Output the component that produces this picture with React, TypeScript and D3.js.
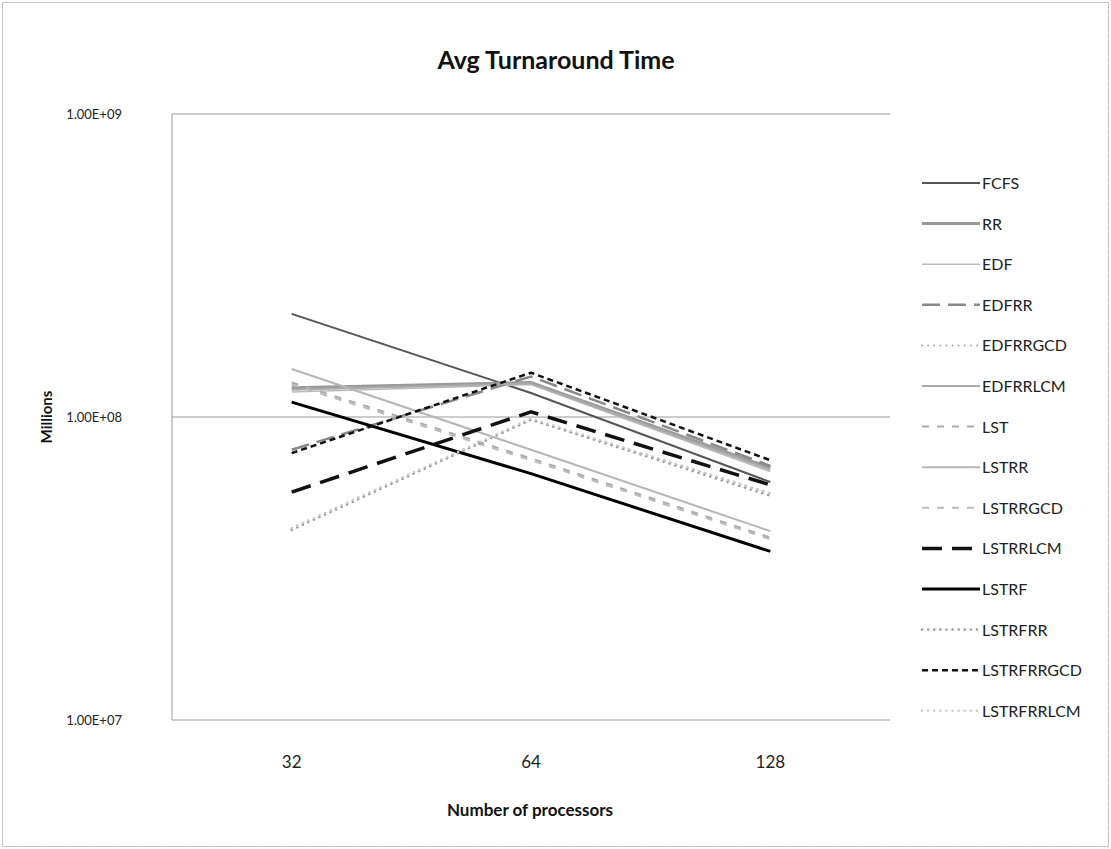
import React from "react";
import * as d3 from "d3";

const categories = ["32", "64", "128"];
const seriesNames = [
  "FCFS", "RR", "EDF", "EDFRR", "EDFRRGCD", "EDFRRLCM", "LST", "LSTRR",
  "LSTRRGCD", "LSTRRLCM", "LSTRF", "LSTRFRR", "LSTRFRRGCD", "LSTRFRRLCM",
];
const FCFS = [2.19e8, 1.2e8, 6.1e7];
const RR = [1.25e8, 1.3e8, 6.8e7];
const EDF = [1.21e8, 1.28e8, 6.6e7];
const EDFRR = [7.8e7, 1.36e8, 6.9e7];
const EDFRRGCD = [4.3e7, 9.8e7, 5.6e7];
const EDFRRLCM = [1.23e8, 1.29e8, 6.7e7];
const LST = [1.3e8, 7.3e7, 4.0e7];
const LSTRR = [1.44e8, 7.8e7, 4.2e7];
const LSTRRGCD = [1.28e8, 7.2e7, 3.95e7];
const LSTRRLCM = [5.65e7, 1.04e8, 5.97e7];
const LSTRF = [1.12e8, 6.5e7, 3.6e7];
const LSTRFRR = [4.24e7, 9.8e7, 5.5e7];
const LSTRFRRGCD = [7.6e7, 1.4e8, 7.2e7];
const LSTRFRRLCM = [4.3e7, 9.9e7, 5.6e7];
const yTicks = [1e7, 1e8, 1e9];
const yTickLabels = ["1.00E+07", "1.00E+08", "1.00E+09"];

const seriesValues = [
  FCFS, RR, EDF, EDFRR, EDFRRGCD, EDFRRLCM, LST, LSTRR,
  LSTRRGCD, LSTRRLCM, LSTRF, LSTRFRR, LSTRFRRGCD, LSTRFRRLCM,
];

const styles: { color: string; width: number; dash?: string; cap?: string }[] = [
  { color: "#555", width: 2 },
  { color: "#999", width: 3 },
  { color: "#bbb", width: 1.5 },
  { color: "#888", width: 2.5, dash: "18 8" },
  { color: "#aaa", width: 2, dash: "0.1 6", cap: "round" },
  { color: "#aaa", width: 2 },
  { color: "#aaa", width: 2, dash: "7 8" },
  { color: "#b5b5b5", width: 2 },
  { color: "#bbb", width: 2, dash: "7 8" },
  { color: "#111", width: 3.5, dash: "20 10" },
  { color: "#000", width: 3 },
  { color: "#999", width: 2.5, dash: "0.1 6", cap: "round" },
  { color: "#111", width: 2.5, dash: "6 4" },
  { color: "#ccc", width: 2.5, dash: "0.1 6", cap: "round" },
];

const W = 1111, H = 849;
const plotL = 172, plotR = 890, plotT = 114, plotB = 720;
const font = "Lato, 'Open Sans', sans-serif";

export default function App() {
  const x = d3.scalePoint<string>().domain(categories).range([plotL, plotR]).padding(0.5);
  const y = d3.scaleLog().domain([1e7, 1e9]).range([plotB, plotT]);
  const line = d3.line<number>()
    .x((_, i) => x(categories[i]) as number)
    .y((d) => y(d));

  const legendX0 = 922, legendX1 = 980, legendY0 = 183, legendStep = 40.6;

  return (
    <svg width={W} height={H} style={{ position: "absolute", left: 0, top: 0, background: "#fff" }}>
      <rect x={2.5} y={2.5} width={W - 5} height={H - 5} fill="#fff" stroke="#aaa" strokeWidth={1} strokeDasharray="2 1" />
      <text x={556} y={69} textAnchor="middle" fontFamily={font} fontWeight="bold" fontSize={25} fill="#111">
        Avg Turnaround Time
      </text>
      {yTicks.map((t) => (
        <line key={"g" + t} x1={plotL} x2={plotR} y1={y(t)} y2={y(t)} stroke="#999" strokeWidth={1} />
      ))}
      <line x1={plotL} x2={plotL} y1={plotT} y2={plotB} stroke="#999" strokeWidth={1} />
      {yTicks.map((t, i) => (
        <text key={"t" + t} x={122} y={y(t) + 5} textAnchor="end" fontFamily={font} fontSize={13} fill="#222">
          {yTickLabels[i]}
        </text>
      ))}
      <text transform={`translate(52,${(plotT + plotB) / 2}) rotate(-90)`} textAnchor="middle" fontFamily={font} fontWeight="bold" fontSize={15} fill="#111">
        Millions
      </text>
      {categories.map((c) => (
        <text key={c} x={x(c)} y={768} textAnchor="middle" fontFamily={font} fontSize={17} fill="#222">
          {c}
        </text>
      ))}
      <text x={530} y={816} textAnchor="middle" fontFamily={font} fontWeight="bold" fontSize={17} fill="#111">
        Number of processors
      </text>
      {seriesValues.map((vals, i) => {
        const s = styles[i];
        return (
          <path key={seriesNames[i]} d={line(vals) || ""} fill="none" stroke={s.color} strokeWidth={s.width}
            strokeDasharray={s.dash} strokeLinecap={(s.cap as any) || "butt"} />
        );
      })}
      {seriesNames.map((n, i) => {
        const s = styles[i];
        const ly = legendY0 + i * legendStep;
        return (
          <g key={"l" + n}>
            <line x1={legendX0} x2={legendX1} y1={ly} y2={ly} stroke={s.color} strokeWidth={s.width}
              strokeDasharray={s.dash} strokeLinecap={(s.cap as any) || "butt"} />
            <text x={legendX1 + 2} y={ly + 6} fontFamily={font} fontSize={16} fill="#222">{n}</text>
          </g>
        );
      })}
    </svg>
  );
}
